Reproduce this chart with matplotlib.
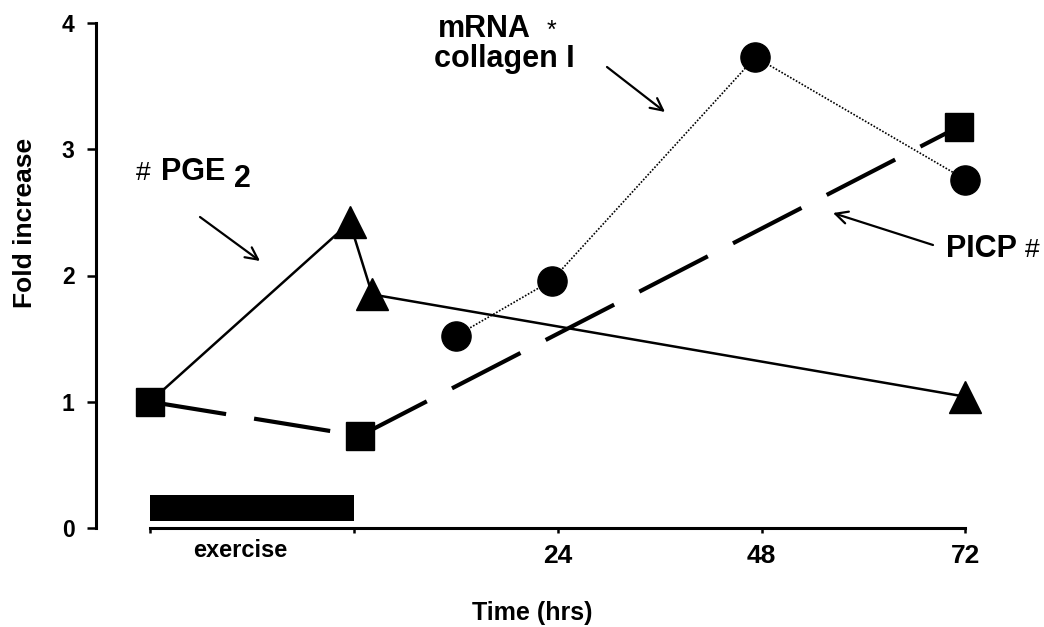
import matplotlib
matplotlib.use("Agg")
import matplotlib.pyplot as plt

plt.rcParams['font.family'] = ['Liberation Sans', 'DejaVu Sans']
plt.rcParams['font.weight'] = 'bold'

# ---- data (x in plot-position units: 0 = exercise start, 1 = exercise end, 2/3/4 = 24/48/72 h)
x_pge2 = [0.0, 0.98, 1.09, 4.0]
y_pge2 = [1.0, 2.42, 1.85, 1.04]

x_col = [1.50, 1.97, 2.97, 4.0]
y_col = [1.52, 1.96, 3.73, 2.76]

x_picp = [0.0, 1.03, 3.97]
y_picp = [1.0, 0.73, 3.18]

xtick_pos = [0, 1, 2, 3, 4]
xtick_labels = ['', '', '24', '48', '72']
ytick_pos = [0, 1, 2, 3, 4]

exercise_start, exercise_end = 0.0, 1.0

W, H = 1044, 627
fig = plt.figure(figsize=(W / 100, H / 100), dpi=100)
ax = fig.add_axes([96 / W, 1 - 528 / H, (1000 - 96) / W, (528 - 23) / H])

ax.set_xlim(-0.265, 4.17)
ax.set_ylim(0, 4)

# exercise bar
ax.bar(exercise_start, 0.205, width=exercise_end - exercise_start, bottom=0.055,
       align='edge', color='black', zorder=2)

# PICP: long dashes, squares
l, = ax.plot(x_picp, y_picp, color='black', lw=3.0, marker='s', ms=20,
             mec='black', mfc='black', clip_on=False, zorder=3)
l.set_dashes((18.5, 6.8))

# PGE2: solid, triangles (first point hidden under square)
ax.plot(x_pge2, y_pge2, color='black', lw=1.8, marker='^', ms=23,
        markevery=[1, 2, 3], mec='black', mfc='black', clip_on=False, zorder=4)

# collagen I mRNA: dotted, circles
ax.plot(x_col, y_col, color='black', lw=1.2, ls=(0, (1, 1)), marker='o', ms=21,
        mec='black', mfc='black', clip_on=False, zorder=4)

# spines
for s in ['top', 'right']:
    ax.spines[s].set_visible(False)
ax.spines['left'].set_linewidth(2.2)
ax.spines['bottom'].set_linewidth(2.2)
ax.spines['left'].set_bounds(0, 4)
ax.spines['bottom'].set_bounds(0, 4)

ax.set_xticks(xtick_pos)
ax.set_xticklabels(xtick_labels)
ax.set_yticks(ytick_pos)
ax.set_yticklabels([str(v) for v in ytick_pos])
ax.tick_params(axis='y', direction='out', length=6.5, width=1.8, pad=9, labelsize=16.5)
ax.tick_params(axis='x', direction='out', length=3.5, width=1.8, pad=8, labelsize=19)
for t in ax.get_xticklabels() + ax.get_yticklabels():
    t.set_fontweight('bold')

# axis labels
fig.text(25 / W, 1 - 223 / H, 'Fold increase', rotation=90, ha='center', va='center',
         fontsize=19, fontweight='bold')
fig.text(532 / W, 1 - 613 / H, 'Time (hrs)', ha='center', va='center',
         fontsize=18, fontweight='bold')
fig.text(240 / W, 1 - 557 / H, 'exercise', ha='center', va='baseline',
         fontsize=17, fontweight='bold')


def fp(x, y):
    return (x, H - y)


# annotations
fig.text(136 / W, 1 - 180 / H, '#', ha='left', va='baseline', fontsize=19, fontweight='normal')
fig.text(161 / W, 1 - 180 / H, 'PGE', ha='left', va='baseline', fontsize=22, fontweight='bold')
fig.text(234 / W, 1 - 187 / H, '2', ha='left', va='baseline', fontsize=22, fontweight='bold')

fig.text(438 / W, 1 - 37 / H, 'mRNA', ha='left', va='baseline', fontsize=22, fontweight='bold')
fig.text(547 / W, 1 - 19 / H, '*', ha='left', va='top', fontsize=18, fontweight='normal')
fig.text(434 / W, 1 - 67 / H, 'collagen I', ha='left', va='baseline', fontsize=22, fontweight='bold')

fig.text(946 / W, 1 - 257 / H, 'PICP', ha='left', va='baseline', fontsize=22, fontweight='bold')
fig.text(1025 / W, 1 - 257 / H, '#', ha='left', va='baseline', fontsize=19, fontweight='normal')

arrow_kw = dict(arrowstyle='->', lw=1.6, color='black', mutation_scale=22,
                shrinkA=0, shrinkB=0)
for start, end in [((200, 217), (260, 261)),
                   ((607, 67), (665, 112)),
                   ((933, 245), (833, 213))]:
    ax.annotate('', xy=fp(*end), xytext=fp(*start), xycoords='figure pixels',
                textcoords='figure pixels', arrowprops=arrow_kw)

fig.savefig('out.png', dpi=100)
